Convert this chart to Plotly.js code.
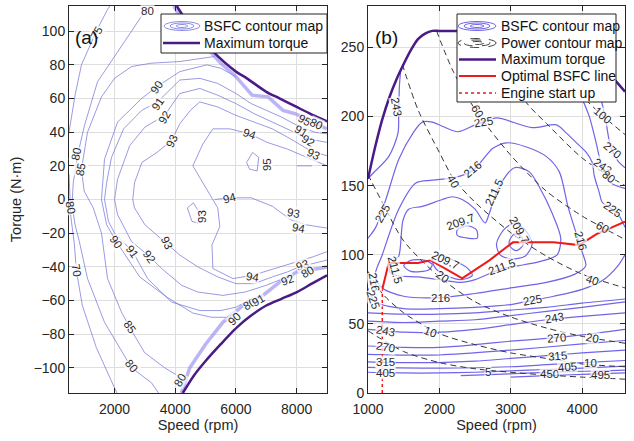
<!DOCTYPE html>
<html><head><meta charset="utf-8">
<script src="https://cdn.plot.ly/plotly-3.0.1.min.js"></script>
<style>html,body{margin:0;padding:0;background:#fff}#chart{width:634px;height:441px}</style>
</head><body><div id="chart"></div>
<script>
// ---------- Panel (a): motor efficiency map ----------
const aMaxTopSpeed = [4050,4500,5240,6000,6360,7000,7450,8000,8500,9000];
const aMaxTopTorque = [115,103,88,76,72,64,60,55,50.5,46.5];
const aMaxBotSpeed = [4250,4600,5000,5500,6030,6500,7000,7500,8010,8500,9000];
const aMaxBotTorque = [-115,-105,-96,-86,-76,-69,-63,-59,-55,-50,-45];
const aBandTopSpeed = [3950,4500,5000,5500,6000,6530,7060,7550,7950,8500,9000];
const aBandTopTorque = [115,100,91,81,73,62,61,53,51,46,42];
const aBandBotSpeed = [4200,4480,5000,5570,6360,6890,7450,8010,8880,9000];
const aBandBotTorque = [-115,-100,-86,-73,-61,-57,-49,-43,-40.6,-40];

const a70Speed = [500,560,680,740,940,1400,2000,2080];
const a70Torque = [15,-10,-27,-42,-63,-88,-112,-115];
const a75Speed = [500,700,910,1240,1400,1770,1850];
const a75Torque = [40,62,80,94,100,113,115];
const a80Speed = [3150,2890,2560,2000,1440,1010,780,640,600,700,840,1110,1670,2330,2560,3220,3450];
const a80Torque = [115,109,100,85,70,44,26,10,-3,-15,-25,-47,-73,-93,-100,-109,-115];
const a85Speed = [5300,4600,4150,3200,2560,2000,1570,1110,910,1000,1300,1570,1770,2230,2500,2990,3650,4200];
const a85Torque = [85,83,82,81,79,72,61,40,18,5,-5,-20,-47,-67,-76,-91,-100,-106];
const a90Speed = [6000,5500,5040,4150,3390,2890,2100,1670,1570,1740,2060,2830,3720,4580,5200,5700,5970];
const a90Torque = [73,78,80,76,67,60,46,24,0,-15,-25,-46,-58,-67.5,-70,-70,-68];
const a91Speed = [9000,8600,8120,7500,7000,6500,6000,5400,4810,4150,3420,2900,2300,1900,1740,1670,1800,2000,2600,3090,3880,4810,5500,6000,6400];
const a91Torque = [39,40,43,49,53,57,63,69,72,71,58,53,42,25,10,0,-13,-20,-31,-47,-61,-66,-66,-64,-60];
const a92Speed = [9000,8350,7800,7200,6600,6000,5400,4810,4150,3650,3000,2500,2100,2000,2100,2560,3160,3550,4210,4740,5570,6300,7000,7690];
const a92Torque = [34,36,41,46,51,57,62,66,63,50,43,32,12,0,-9,-25,-34,-41,-51,-55,-57,-55,-51,-46];
const a93Speed = [9000,8450,7800,7200,6600,6000,5400,4810,4500,4150,3880,3400,2900,2660,2600,2660,3000,3720,4150,4740,5400,6000,6600,7200,7700,8100,9000];
const a93Torque = [26,29,36,42,46,50,55,58,53,45,35,28,22,10,0,-5,-15,-26,-33,-40,-46,-50,-50,-46,-43,-40,-36];
const a94Speed = [9000,8500,7690,7020,6460,5800,5240,4910,4580,5040,5400,5470,5210,5240,5900,6560,7450,8550,9000];
const a94Torque = [20,24,30,34,39,42,42,33,20,6,-5,-16,-27,-41,-47,-45,-40,-34,-31];
const a94bSpeed = [5300,5800,6500,7200,7800,8300,9000];
const a94bTorque = [0,1,1,-4,-12,-15,-17];
const a93bSpeed = [4400,4600,4800,4750,4550,4400];
const a93bTorque = [-5,-2,-8,-14,-13,-5];
const a95Speed = [6350,6550,6750,6700,6450,6350];
const a95Torque = [22,28,25,17,18,22];
const a95bSpeed = [8000,8500];
const a95bTorque = [20,20];

const aLabText  = ['75','80','80','85','90','91','92','93','94','95','95','80','91','92','93','94','93','93','94','80','70','90','91','92','93','85','80','80','94','90','80','91','92','93','80'];
const aLabSpeed = [1400,3100,740,890,3390,3420,3650,3880,6460,7020,8250,8650,8150,8400,8550,5800,4900,7900,8050,560,740,2060,2600,3160,3720,2500,2560,4150,6560,5950,6450,6750,7690,8200,8350];
const aLabTorque= [99,112,27,18,67,57,49,35,39,21,47,45,41,35,27,1,-10,-8,-17,-5,-42,-25,-31,-34,-26,-76,-99,-107,-46,-71,-62,-60,-48,-39,-43];
const aLabAngle = [-60,0,-80,-80,-55,-55,-60,-65,20,-90,30,25,30,30,25,-15,-90,10,10,80,80,55,55,55,65,55,50,-60,10,-45,-30,-30,-20,-20,-30];

// ---------- Panel (b): engine BSFC map ----------
const bMaxSpeed = [1000,1100,1200,1300,1400,1500,1600,1700,1800,1900,2000,2500,2800,3100,3300,3500,3700,3900,4100,4300,4600];
const bMaxTorque = [155,178,198,214,227,238,248,256,260,262,262,262,262,266,271,273,271,262,248,236,218];

const p5Speed = [1000,1500,2000,2500,3000,3500,4000,4600];
const p5Torque = [45,30,22,17.5,15,13,11.5,10];
const p10Speed = [1000,1200,1500,2000,2500,3000,3500,4000,4600];
const p10Torque = [88,72,58,43,35,29,25,21,19];
const p20Speed = [1000,1200,1500,2000,2500,3000,3500,4000,4600];
const p20Torque = [158,138,110,84,66,55,47,41,36];
const p40Speed = [1480,1700,2000,2200,2500,3000,3500,4000,4600];
const p40Torque = [238,205,174,155,138,116,99,86,76];
const p60Speed = [1960,2200,2528,3000,3500,4000,4278,4600];
const p60Torque = [262,232,203,172,146,128,120,111];
const p80Speed = [2650,3000,3220,3500,4000,4375,4600];
const p80Torque = [262,230,210,195,170,157,150];
const p100Speed = [3250,3500,4000,4278,4600];
const p100Torque = [271,248,215,201,187];

const b405Speed = [1000,1500,2000,2500,3000,3500,4000,4600];
const b405Torque = [15,14.5,14.5,15,16,17,18,19.5];
const b450Speed = [2300,2800,3300,3800,4300,4600];
const b450Torque = [12.5,13.5,14.5,15.5,16,16.5];
const b495Speed = [3000,3500,4000,4600];
const b495Torque = [11.5,12.5,13.5,14.5];
const b360Speed = [1000,2000,3000,3500,4000,4600];
const b360Torque = [18.5,18,19,20.5,22,23.5];
const b315Speed = [1000,1500,2000,2500,3000,3500,4000,4600];
const b315Torque = [22.5,22,22,23,25,27,29,31];
const b290Speed = [1000,2000,3000,4000,4600];
const b290Torque = [28,27.5,31,35.5,38];
const b270Speed = [1000,1500,2000,2500,3000,3500,4000,4600];
const b270Torque = [34,33,33,35,37.5,39.5,42,46];
const b243Speed = [1000,1500,2000,2500,3000,3500,4000,4600];
const b243Torque = [46,44,44,46,49.5,53,55.5,58];
const b234Speed = [1000,1500,2000,2500,3000,3500,4000,4600];
const b234Torque = [52,51,52,53,56,59,62,66];
const b230Speed = [1000,1500,2000,2500,3000,3500,4000,4600];
const b230Torque = [58,57,57,58,60,62,65,68];
const b225LowSpeed = [1000,1100,1500,2000,2500,3000,3310,3600,4000,4300,4500,4600];
const b225LowTorque = [76,66,61,61,62,64,67,70,75,82,92,100];
const b225UpSpeed = [1000,1110,1250,1430,1630,1760,1900,2040,2260,2500,2610,2805,3300,3640,3780,3920,4060,4140,4170,4240,4280,4420,4520,4600];
const b225UpTorque = [112,120,140,169,188,196,196,193,189,194,196,199,192,194,188,181,174,167,157,145,138,133,128,120];
const b216Speed = [1100,1200,1430,1670,1900,2220,2470,2750,2940,3220,3500,3680,3800,3920,4000,4050,3900,3500,3000,2500,2000,1500,1200,1100];
const b216Torque = [85,100,133,152,154,156,161,177,181,178,171,160,135,115,102,92,86,80,76,72,69,70,76,85];
const b2115Speed = [1300,1360,1430,1490,1570,1760,2040,2180,2320,2500,2640,2700,2820,3050,3260,3400,3580,3700,3650,3400,3100,2875,2500,2300,2000,1700,1400,1300];
const b2115Torque = [88,96,99,125,133,135,140,142,140,133,123,130,148,163,160,149,130,112,100,95,92,90,82,80,82,84,85,88];
const b2097aSpeed = [1500,1600,1800,1900,1850,1600,1500];
const b2097aTorque = [92,96,96,93,89,88,92];
const b2097bSpeed = [2250,2400,2520,2530,2400,2250,2250];
const b2097bTorque = [118,121,118,112,112,114,118];
const b2097cSpeed = [2800,2900,3050,3200,3300,3200,3000,2850,2800];
const b2097cTorque = [108,118,123,118,108,99,97,100,108];
const b2097dSpeed = [2980,3050,3150,3170,3080,2990,2980];
const b2097dTorque = [110,115,113,107,103,106,110];
const b2097eSpeed = [1900,2000,2200,2400,2460,2300,2100,1950,1900];
const b2097eTorque = [97,100,96,90,85,82,85,90,97];
const b243ULSpeed = [1000,1070,1290,1420,1430,1440,1460];
const b243ULTorque = [155,159,171,188,203,222,235];
const b243URSpeed = [3650,3900,4100,4200,4280,4400,4600];
const b243URTorque = [255,225,200,180,163,152,148];
const b270URSpeed = [4000,4200,4320,4400,4500,4600];
const b270URTorque = [252,225,200,178,168,163];

const optSpeed = [1200,1290,1500,1700,1880,2320,2700,3030,3300,3600,3960,4200,4600];
const optTorque = [75,94,94,94,96,83,96,109,109,109,107,115,124];
const startSpeed = [1200,1200];
const startTorque = [0,75];

const bLabText  = ['243','225','60','225','40','216','211.5','209.7','209.7','20','209.7','211.5','216','225','216','211.5','225','243','10','270','315','405','5','243','270','20','315','450','405','10','495','216','40','60','225','243','80','270','100'];
const bLabSpeed = [1400,2620,2530,1210,2200,2470,2760,2290,2080,2050,3120,1380,1080,1070,2014,2875,3310,1250,1875,1240,1250,1250,2680,3610,3640,4140,3650,3540,3800,4120,4250,3980,4140,4278,4420,4280,4375,4420,4278];
const bLabTorque= [207,196,204,130,153,162,145,124,96,84,118,89,80,68,69,91,67,45,44,33,22.5,14.5,15,54,40,40,27,13.5,18.5,22,13,110,82,120,133,164,156,176,201];
const bLabAngle = [80,-10,60,-60,60,-40,-65,-20,25,35,60,75,80,70,0,-20,-10,10,20,10,0,0,0,-10,-5,10,-5,0,-5,0,0,75,20,30,35,35,40,40,40];

// ---------- build ----------
const W = 634, H = 441;
const FONT = 'Liberation Sans, Arial, sans-serif';
const aC = 'rgba(105,105,215,0.75)';
const bC = 'rgb(112,100,232)';
const traces = [];
function line(xs, ys, ax, ay, color, width, dash, shape) {
  traces.push({type:'scatter', mode:'lines', x:xs, y:ys, xaxis:ax, yaxis:ay, hoverinfo:'skip',
    line:{color:color, width:width, dash:dash||'solid', shape:shape||'linear', smoothing:0.8}});
}
// panel a
[[a70Speed,a70Torque],[a75Speed,a75Torque],[a80Speed,a80Torque],[a85Speed,a85Torque],[a90Speed,a90Torque],
 [a91Speed,a91Torque],[a92Speed,a92Torque],[a93Speed,a93Torque],[a94Speed,a94Torque],[a94bSpeed,a94bTorque],
 [a93bSpeed,a93bTorque],[a95Speed,a95Torque],[a95bSpeed,a95bTorque]].forEach(p => line(p[0],p[1],'x','y',aC,0.9));
line(aBandTopSpeed,aBandTopTorque,'x','y','rgba(150,140,240,0.65)',3.5);
line(aBandBotSpeed,aBandBotTorque,'x','y','rgba(150,140,240,0.65)',3.5);
line(aMaxTopSpeed,aMaxTopTorque,'x','y','#4a1a86',2.5,'solid','spline');
line(aMaxBotSpeed,aMaxBotTorque,'x','y','#4a1a86',2.5,'solid','spline');
// panel b
[[b405Speed,b405Torque],[b450Speed,b450Torque],[b495Speed,b495Torque],[b360Speed,b360Torque],[b315Speed,b315Torque],
 [b290Speed,b290Torque],[b270Speed,b270Torque],[b243Speed,b243Torque],[b234Speed,b234Torque],[b230Speed,b230Torque],
 [b225LowSpeed,b225LowTorque],[b225UpSpeed,b225UpTorque],[b216Speed,b216Torque],[b2115Speed,b2115Torque],
 [b2097aSpeed,b2097aTorque],[b2097bSpeed,b2097bTorque],[b2097cSpeed,b2097cTorque],[b2097dSpeed,b2097dTorque],
 [b2097eSpeed,b2097eTorque],[b243ULSpeed,b243ULTorque],[b243URSpeed,b243URTorque],[b270URSpeed,b270URTorque]
].forEach(p => line(p[0],p[1],'x2','y2',bC,1.2,'solid','spline'));
[[p5Speed,p5Torque],[p10Speed,p10Torque],[p20Speed,p20Torque],[p40Speed,p40Torque],[p60Speed,p60Torque],
 [p80Speed,p80Torque],[p100Speed,p100Torque]].forEach(p => line(p[0],p[1],'x2','y2','#333',1,'6px,4px','spline'));
line(bMaxSpeed,bMaxTorque,'x2','y2','#4a1a86',2.5,'solid','spline');
line(startSpeed,startTorque,'x2','y2','#f01818',1.5,'dot');
line(optSpeed,optTorque,'x2','y2','#f01818',2);

const ann = [];
function lab(t,x,y,a,xr,yr){ann.push({text:t,x:x,y:y,xref:xr,yref:yr,textangle:a,showarrow:false,
  font:{family:FONT,size:11.5,color:'#2a2a2a'},bgcolor:'rgba(255,255,255,0.7)',borderpad:0});}
aLabText.forEach((t,i)=>lab(t,aLabSpeed[i],aLabTorque[i],aLabAngle[i],'x','y'));
bLabText.forEach((t,i)=>lab(t,bLabSpeed[i],bLabTorque[i],bLabAngle[i],'x2','y2'));

const px = v => v / W, py = v => 1 - v / H;
const shapes = [];
function ptxt(t,x,y,size){ann.push({text:t,x:px(x),y:py(y),xref:'paper',yref:'paper',xanchor:'left',yanchor:'middle',showarrow:false,font:{family:FONT,size:size||14,color:'#111'}});}
function box(x0,y0,x1,y1){shapes.push({type:'rect',xref:'paper',yref:'paper',x0:px(x0),x1:px(x1),y0:py(y1),y1:py(y0),fillcolor:'#fff',line:{color:'#222',width:1}});}
function ell(cx,cy,rx,ry,color,dash){shapes.push({type:'circle',xref:'paper',yref:'paper',x0:px(cx-rx),x1:px(cx+rx),y0:py(cy+ry),y1:py(cy-ry),line:{color:color,width:1,dash:dash||'solid'}});}
function seg(x0,x1,y,color,w,dash){shapes.push({type:'line',xref:'paper',yref:'paper',x0:px(x0),x1:px(x1),y0:py(y),y1:py(y),line:{color:color,width:w,dash:dash||'solid'}});}
// legend a
box(161,14,327,53);
[[18,4.5],[12,3],[6,1.5]].forEach(r=>ell(182,26,r[0],r[1],'rgb(140,140,230)'));
seg(163,200,43,'#4a1a86',2.5);
ptxt('BSFC contour map',202,26); ptxt('Maximum torque',202,43);
// legend b
box(457,14,616,102);
[[19,4.5],[13,3],[7,1.5]].forEach(r=>ell(477,26,r[0],r[1],bC));
[[19,4.5],[13,3],[7,1.5]].forEach(r=>ell(477,43,r[0],r[1],'#444','dash'));
seg(459,496,59.5,'#4a1a86',2.5);
seg(459,496,76,'#f01818',2);
seg(459,496,93,'#f01818',1.5,'dot');
ptxt('BSFC contour map',499,26); ptxt('Power contour map',499,43); ptxt('Maximum torque',499,59.5);
ptxt('Optimal BSFC line',499,76); ptxt('Engine start up',499,93);
ann.push({text:'(a)',x:px(73),y:py(25),xref:'paper',yref:'paper',xanchor:'left',showarrow:false,font:{family:FONT,size:19,color:'#111'}});
ann.push({text:'(b)',x:px(373),y:py(25),xref:'paper',yref:'paper',xanchor:'left',showarrow:false,font:{family:FONT,size:19,color:'#111'}});

const axBase = {showline:true, linecolor:'#262626', linewidth:1, mirror:'ticks', ticks:'inside', ticklen:5, tickcolor:'#262626',
  showgrid:true, gridcolor:'#dedede', gridwidth:1, zeroline:false, tickfont:{family:FONT,size:14,color:'#262626'}};
const yDom = [1-393/H, 1-6/H];
const layout = {
  width:W, height:H, margin:{l:0,r:0,t:0,b:0}, paper_bgcolor:'#fff', plot_bgcolor:'#fff', showlegend:false,
  xaxis:Object.assign({}, axBase, {domain:[69/W,327/W], range:[500,9000], tickvals:[2000,4000,6000,8000], anchor:'y', ticklabelstandoff:3,
    title:{text:'Speed (rpm)', font:{family:FONT,size:14.5,color:'#262626'}, standoff:4}}),
  yaxis:Object.assign({}, axBase, {domain:yDom, range:[-115,115], tickvals:[-100,-80,-60,-40,-20,0,20,40,60,80,100], anchor:'x',
    title:{text:'Torque (N·m)', font:{family:FONT,size:14.5,color:'#262626'}, standoff:8}}),
  xaxis2:Object.assign({}, axBase, {domain:[368/W,625/W], range:[1000,4600], tickvals:[1000,2000,3000,4000], anchor:'y2', ticklabelstandoff:3,
    title:{text:'Speed (rpm)', font:{family:FONT,size:14.5,color:'#262626'}, standoff:4}}),
  yaxis2:Object.assign({}, axBase, {domain:yDom, range:[0,280], tickvals:[0,50,100,150,200,250], anchor:'x2'}),
  annotations:ann, shapes:shapes
};
Plotly.newPlot('chart', traces, layout, {staticPlot:true, displayModeBar:false});
</script></body></html>
